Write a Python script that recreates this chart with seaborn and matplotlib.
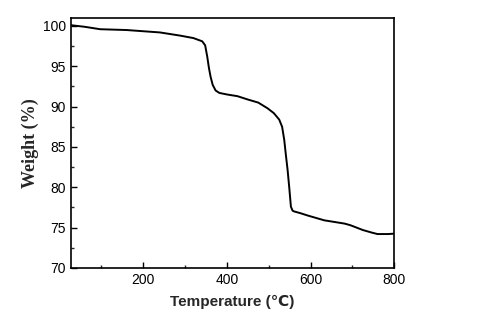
import matplotlib
matplotlib.use("Agg")
import matplotlib.pyplot as plt
import seaborn as sns
import pandas as pd
from matplotlib.ticker import MultipleLocator

# TGA curve
temperature = [27, 60, 97, 160, 240, 289, 320, 341, 348, 353, 357, 361, 366, 373, 382, 401,
               425, 449, 475, 497, 512, 525, 532, 537, 541, 545, 549, 553, 557, 561,
               575, 593, 613, 633, 657, 681, 695, 705, 725, 745, 760, 769, 785, 800]
weight = [100.1, 99.9, 99.6, 99.5, 99.2, 98.8, 98.5, 98.1, 97.6, 96.2, 94.8, 93.7, 92.7, 92.0, 91.7, 91.5,
          91.3, 90.9, 90.5, 89.8, 89.2, 88.4, 87.5, 85.9, 84.0, 82.2, 80.0, 77.6, 77.1, 77.0,
          76.8, 76.5, 76.2, 75.9, 75.7, 75.5, 75.3, 75.1, 74.7, 74.4, 74.2, 74.2, 74.2, 74.25]

df = pd.DataFrame({"Temperature": temperature, "Weight": weight})

sns.set_style("ticks")
plt.rcParams['font.family'] = ['Liberation Sans', 'DejaVu Sans']
plt.rcParams['xtick.direction'] = 'in'
plt.rcParams['ytick.direction'] = 'in'

fig = plt.figure(figsize=(4.79, 3.32), dpi=100)
ax = fig.add_axes([0.148, 0.193, 0.675, 0.753])

sns.lineplot(data=df, x="Temperature", y="Weight", color="black", linewidth=1.4, ax=ax)

ax.set_xlim(27, 800)
ax.set_ylim(70, 101)
ax.xaxis.set_major_locator(MultipleLocator(200))
ax.xaxis.set_minor_locator(MultipleLocator(100))
ax.yaxis.set_major_locator(MultipleLocator(5))
ax.yaxis.set_minor_locator(MultipleLocator(2.5))
ax.tick_params(which='major', length=4, width=1, labelsize=10, colors='black')
ax.tick_params(which='minor', length=2.5, width=1)
for s in ax.spines.values():
    s.set_linewidth(1.2)
    s.set_color('black')

ax.set_xlabel("Temperature (\u2103)", fontsize=11, fontweight='bold', labelpad=6)
ax.set_ylabel("Weight (%)", fontsize=13, fontweight='bold',
              family=['Liberation Serif', 'DejaVu Serif'], labelpad=3)

fig.savefig("out.png", dpi=100)
